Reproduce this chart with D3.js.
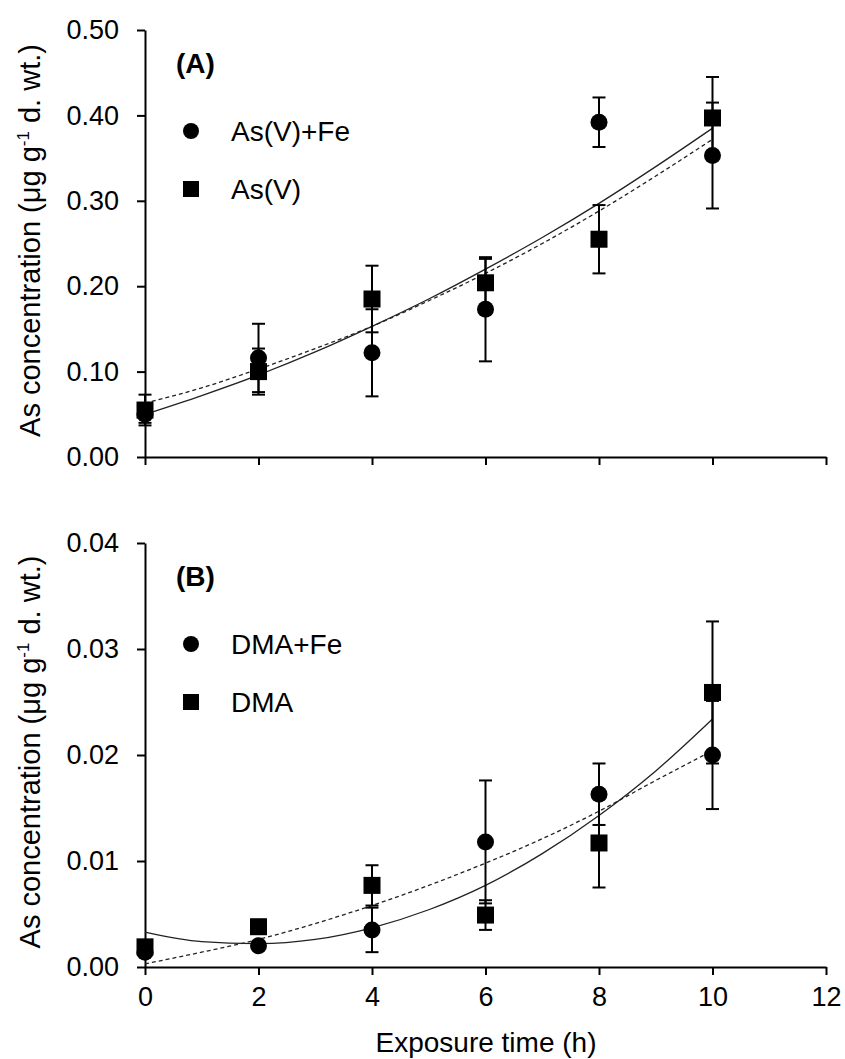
<!DOCTYPE html>
<html>
<head>
<meta charset="utf-8">
<script src="https://cdn.jsdelivr.net/npm/d3@7"></script>
<style>
  html, body { margin: 0; padding: 0; background: #fff; }
  svg { display: block; }
  text { font-family: "Liberation Sans", Arial, sans-serif; fill: #000; }
</style>
</head>
<body>
<div id="chart"></div>
<script>
// exposure times (h)
const timeH = [0, 2, 4, 6, 8, 10];

// panel A: As(V)
const asVFeMean = [0.050, 0.116, 0.122, 0.173, 0.392, 0.353];
const asVFeErr  = [0.010, 0.040, 0.051, 0.061, 0.029, 0.062];
const asVMean   = [0.055, 0.100, 0.185, 0.204, 0.255, 0.397];
const asVErr    = [0.018, 0.027, 0.039, 0.028, 0.040, 0.048];

// panel B: DMA
const dmaFeMean = [0.0014, 0.0020, 0.0035, 0.0118, 0.0163, 0.0200];
const dmaFeErr  = [0.0003, 0.0003, 0.0021, 0.0058, 0.0029, 0.0051];
const dmaMean   = [0.0019, 0.0038, 0.0077, 0.0049, 0.0117, 0.0259];
const dmaErr    = [0.0004, 0.0006, 0.0019, 0.0014, 0.0042, 0.0067];

// fitted curves at each hour
const fitTime     = [0, 1, 2, 3, 4, 5, 6, 7, 8, 9, 10];
const fitSolidA   = [0.050, 0.072, 0.096, 0.123, 0.153, 0.185, 0.220, 0.257, 0.297, 0.340, 0.385];
const fitDashedA  = [0.063, 0.081, 0.103, 0.127, 0.153, 0.183, 0.215, 0.250, 0.288, 0.329, 0.372];
const fitSolidB   = [0.0033, 0.0024, 0.0022, 0.0026, 0.0037, 0.0054, 0.0077, 0.0107, 0.0143, 0.0185, 0.0234];
const fitDashedB  = [0.0003, 0.0014, 0.0026, 0.0041, 0.0058, 0.0077, 0.0098, 0.0121, 0.0147, 0.0176, 0.0204];

const xTicks  = [0, 2, 4, 6, 8, 10, 12];
const yTicksA = [0, 0.1, 0.2, 0.3, 0.4, 0.5];
const yTicksB = [0, 0.01, 0.02, 0.03, 0.04];

const W = 845, H = 1059;
const svg = d3.select("#chart").append("svg")
  .attr("width", W)
  .attr("height", H);

const x = d3.scaleLinear().domain([0, 12]).range([145, 826]);

const panels = [
  {
    tag: "(A)", top: 30, bottom: 457, domain: [0, 0.5], ticks: yTicksA, xLabels: false,
    circ: { name: "As(V)+Fe", mean: asVFeMean, err: asVFeErr },
    sq:   { name: "As(V)",    mean: asVMean,   err: asVErr },
    solid: fitSolidA, dashed: fitDashedA
  },
  {
    tag: "(B)", top: 543, bottom: 967, domain: [0, 0.04], ticks: yTicksB, xLabels: true,
    circ: { name: "DMA+Fe", mean: dmaFeMean, err: dmaFeErr },
    sq:   { name: "DMA",    mean: dmaMean,   err: dmaErr },
    solid: fitSolidB, dashed: fitDashedB
  }
];

panels.forEach(p => {
  const y = d3.scaleLinear().domain(p.domain).range([p.bottom, p.top]);
  const g = svg.append("g");

  // axes
  const yAxis = g.append("g")
    .attr("transform", `translate(${x(0)},0)`)
    .call(d3.axisLeft(y).tickValues(p.ticks).tickFormat(d3.format(".2f"))
      .tickSize(8).tickSizeOuter(0).tickPadding(18));
  const xAxis = g.append("g")
    .attr("transform", `translate(0,${p.bottom})`)
    .call(d3.axisBottom(x).tickValues(xTicks)
      .tickFormat(p.xLabels ? d3.format("d") : "")
      .tickSize(8).tickSizeOuter(0).tickPadding(12));
  [yAxis, xAxis].forEach(a => {
    a.select(".domain").attr("stroke-width", 2).attr("stroke", "#000");
    a.selectAll(".tick line").attr("stroke-width", 2).attr("stroke", "#000");
    a.selectAll("text").attr("font-size", 27)
      .attr("font-family", "Liberation Sans, Arial, sans-serif").attr("fill", "#000");
  });

  // fitted curves
  const line = d3.line()
    .x((d, i) => x(fitTime[i]))
    .y(d => y(d))
    .curve(d3.curveMonotoneX);
  g.append("path").datum(p.solid)
    .attr("d", line).attr("fill", "none")
    .attr("stroke", "#222").attr("stroke-width", 1.3);
  g.append("path").datum(p.dashed)
    .attr("d", line).attr("fill", "none")
    .attr("stroke", "#222").attr("stroke-width", 1.3)
    .attr("stroke-dasharray", "4,3");

  // error bars
  [p.circ, p.sq].forEach(s => {
    const eb = g.append("g").attr("stroke", "#000").attr("stroke-width", 2);
    timeH.forEach((t, i) => {
      const lo = y(s.mean[i] - s.err[i]), hi = y(s.mean[i] + s.err[i]);
      eb.append("line").attr("x1", x(t)).attr("x2", x(t)).attr("y1", lo).attr("y2", hi);
      eb.append("line").attr("x1", x(t) - 6.5).attr("x2", x(t) + 6.5).attr("y1", lo).attr("y2", lo);
      eb.append("line").attr("x1", x(t) - 6.5).attr("x2", x(t) + 6.5).attr("y1", hi).attr("y2", hi);
    });
  });

  // markers
  g.selectAll(null).data(timeH).enter().append("circle")
    .attr("cx", d => x(d))
    .attr("cy", (d, i) => y(p.circ.mean[i]))
    .attr("r", 8.5).attr("fill", "#000");
  g.selectAll(null).data(timeH).enter().append("rect")
    .attr("x", d => x(d) - 8.5)
    .attr("y", (d, i) => y(p.sq.mean[i]) - 8.5)
    .attr("width", 17).attr("height", 17).attr("fill", "#000");

  // panel tag
  g.append("text")
    .attr("x", 176).attr("y", p.top + 43)
    .attr("font-size", 28).attr("font-weight", "bold")
    .text(p.tag);

  // legend
  const ly1 = p.top + 101, ly2 = p.top + 159;
  g.append("circle").attr("cx", 191).attr("cy", ly1).attr("r", 8).attr("fill", "#000");
  g.append("rect").attr("x", 183).attr("y", ly2 - 8).attr("width", 16).attr("height", 16).attr("fill", "#000");
  g.append("text").attr("x", 231).attr("y", ly1 + 10).attr("font-size", 28).text(p.circ.name);
  g.append("text").attr("x", 231).attr("y", ly2 + 10).attr("font-size", 28).text(p.sq.name);

  // y label
  const yl = g.append("text")
    .attr("transform", `translate(40,${(p.top + p.bottom) / 2 - 3}) rotate(-90)`)
    .attr("text-anchor", "middle")
    .attr("font-size", 29);
  yl.append("tspan").text("As concentration (μg g");
  yl.append("tspan").attr("font-size", 17).attr("dy", -11).text("-1");
  yl.append("tspan").attr("dy", 11).text(" d. wt.)");
});

svg.append("text")
  .attr("x", 486).attr("y", 1052)
  .attr("text-anchor", "middle")
  .attr("font-size", 28)
  .text("Exposure time (h)");
</script>
</body>
</html>
